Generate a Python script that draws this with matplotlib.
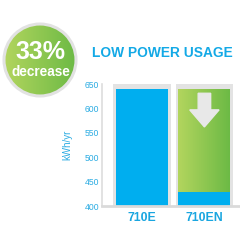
import numpy as np
import matplotlib
matplotlib.use("Agg")
import matplotlib.pyplot as plt
from matplotlib.patches import Circle, Polygon
from matplotlib.colors import LinearSegmentedColormap

plt.rcParams['font.family'] = ['Liberation Sans', 'DejaVu Sans']

# data
models = ["710E", "710EN"]
usage = [640, 429]          # kWh/yr
scale_min, scale_max = 400, 650
ticks = [400, 450, 500, 550, 600, 650]
decrease_pct = 33

blue = "#00AEEF"
frame_gray = "#E3E3E3"
green_cmap = LinearSegmentedColormap.from_list("g", ["#B3D55E", "#6CBA45"])

fig = plt.figure(figsize=(2.4, 2.4), dpi=100)

# main bar chart
ax = fig.add_axes([102 / 240, 34 / 240, 138 / 240, 122 / 240])

x = np.arange(len(models))
frame_w, bar_w = 0.92, 0.83

# gray frames behind each bar
ax.bar(x, scale_max - scale_min, bottom=scale_min, width=frame_w,
       color=frame_gray, zorder=1)

# 710E full usage
ax.bar(x[0], usage[0] - scale_min, bottom=scale_min, width=bar_w,
       color=blue, zorder=2)

# 710EN: blue usage + green gradient for the saving
ax.bar(x[1], usage[1] - scale_min, bottom=scale_min, width=bar_w,
       color=blue, zorder=2)
grad = np.linspace(0, 1, 256).reshape(1, -1)
ax.imshow(grad, cmap=green_cmap, aspect="auto", zorder=2,
          extent=(x[1] - bar_w / 2, x[1] + bar_w / 2, usage[1], usage[0]))
ax.set_xlim(-0.64, 1.57)
ax.set_ylim(scale_min, scale_max)

# down arrow inside the saving
top = usage[0] - 9
head = usage[0] - 43
tip = usage[0] - 78
sw, hw = 0.1, 0.235
cx = x[1]
arrow = Polygon([(cx - sw, top), (cx + sw, top), (cx + sw, head),
                 (cx + hw, head), (cx, tip), (cx - hw, head),
                 (cx - sw, head)], closed=True, color="#E8E8E8", zorder=3)
ax.add_patch(arrow)

ax.set_xticks(x)
ax.set_xticklabels(models, fontsize=8.8, fontweight="bold", color="#1AA6E0")
ax.set_yticks(ticks)
ax.set_yticklabels([str(t) for t in ticks], fontsize=6.2, color="#29ABE2")
ax.tick_params(axis="x", length=0, pad=4)
ax.tick_params(axis="y", length=0, pad=2)
ax.set_ylabel("kWh/yr", fontsize=7, color="#29ABE2", labelpad=9)
for s in ["top", "right"]:
    ax.spines[s].set_visible(False)
ax.spines["left"].set_color("#DDDDDD")
ax.spines["left"].set_linewidth(1.2)
ax.spines["bottom"].set_color("#DADADA")
ax.spines["bottom"].set_linewidth(2)

# overlay in pixel coordinates for title and badge
ov = fig.add_axes([0, 0, 1, 1], zorder=5)
ov.axis("off")

ov.text(162, 53, "LOW POWER USAGE", ha="center", va="center",
        fontsize=9.9, fontweight="bold", color="#13A9E6")

circ = Circle((40, 60), 36, facecolor="none", edgecolor="#E2E2E2",
              linewidth=2.2, zorder=3)
ov.add_patch(circ)
img = ov.imshow(grad, cmap=green_cmap, aspect="auto", zorder=2,
                extent=(4, 76, 96, 24))
img.set_clip_path(Circle((40, 60), 36, transform=ov.transData))
ov.set_xlim(0, 240)
ov.set_ylim(240, 0)
ov.text(40, 52, f"{decrease_pct}%", ha="center", va="center",
        fontsize=18, fontweight="bold", color="white", zorder=4)
ov.text(41, 72, "decrease", ha="center", va="center",
        fontsize=9.8, fontweight="bold", color="white", zorder=4)

fig.savefig("out.png", dpi=100)
